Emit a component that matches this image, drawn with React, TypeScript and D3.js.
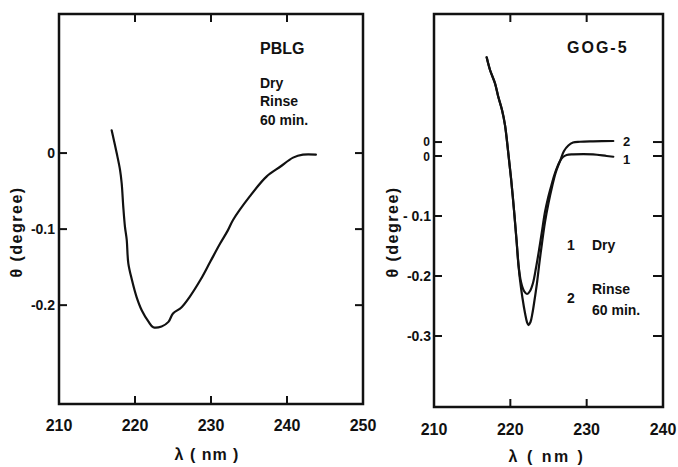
import React from "react";
import * as d3 from "d3";

// ---- Data ----
const pblgWavelength = [216.93, 217.59, 218.03, 218.25, 218.46, 218.68, 218.91, 219.12, 219.6, 220.2, 220.9, 221.8, 222.4, 223.5, 224.4, 225.0, 226.1, 227.2, 228.6, 229.9, 231.2, 232.2, 232.9, 235.1, 237.3, 239.1, 240.8, 242.1, 243.8];
const pblgTheta = [0.03, 0.0, -0.022, -0.04, -0.071, -0.097, -0.114, -0.145, -0.167, -0.189, -0.207, -0.222, -0.229, -0.228, -0.222, -0.211, -0.203, -0.189, -0.167, -0.143, -0.119, -0.102, -0.088, -0.057, -0.031, -0.018, -0.006, -0.002, -0.002];

// GOG-5 curve 1 (Dry), values on its own zero
const dryWavelength = [216.9, 217.34, 217.99, 218.42, 218.91, 219.3, 219.69, 220.09, 220.48, 220.81, 221.07, 221.4, 221.79, 222.18, 222.58, 222.97, 223.36, 223.76, 224.11, 224.54, 224.97, 225.39, 225.85, 226.51, 226.9, 227.38, 228.21, 230.83, 232.62, 233.49];
const dryTheta = [0.1645, 0.1433, 0.1212, 0.0988, 0.0767, 0.0517, 0.01, -0.0367, -0.09, -0.14, -0.1817, -0.21, -0.225, -0.23, -0.225, -0.2117, -0.1867, -0.1567, -0.1283, -0.0933, -0.0683, -0.0483, -0.0283, -0.0083, -0.0017, 0.0017, 0.0028, 0.0028, 0.0, -0.0012];

// GOG-5 curve 2 (Rinse 60 min.), values on its own zero
const rinseWavelength = [216.9, 217.34, 217.99, 218.42, 218.91, 219.3, 219.69, 220.09, 220.48, 220.81, 221.07, 221.27, 221.59, 221.92, 222.18, 222.38, 222.64, 222.9, 223.17, 223.49, 223.82, 224.15, 224.54, 225.0, 225.46, 225.92, 226.51, 227.03, 227.6, 228.21, 229.13, 230.83, 233.49];
const rinseTheta = [0.1412, 0.12, 0.0978, 0.0755, 0.0533, 0.0283, -0.0133, -0.06, -0.1133, -0.1633, -0.205, -0.23, -0.26, -0.285, -0.3, -0.305, -0.3, -0.285, -0.2633, -0.235, -0.2, -0.1683, -0.1333, -0.1017, -0.075, -0.0517, -0.0317, -0.015, -0.0058, -0.0008, 0.0005, 0.0012, 0.0017];
const rinseBaselineShift = 0.0233; // curve 2 drawn offset above curve 1

const leftXTicks = [210, 220, 230, 240, 250];
const leftYTicks = [0, -0.1, -0.2];
const leftYTickLabels = ["0", "-0.1", "-0.2"];
const rightXTicks = [210, 220, 230, 240];
const rightYTicks = [-0.1, -0.2, -0.3];
const rightYTickLabels = ["- 0.1", "-0.2", "-0.3"];

const FONT = "'Liberation Sans', Arial, sans-serif";

export default function App() {
  // Left panel scales
  const lx = d3.scaleLinear().domain([210, 250]).range([59, 363]);
  const ly = d3.scaleLinear().domain([-0.33, 0.1829]).range([404, 14]);
  // Right panel scales
  const rx = d3.scaleLinear().domain([210, 240]).range([434, 663]);
  const ry = d3.scaleLinear().domain([-0.4183, 0.2367]).range([407, 14]);

  const lineL = d3
    .line<number>()
    .x((_, i) => lx(pblgWavelength[i]))
    .y((d) => ly(d))
    .curve(d3.curveCatmullRom.alpha(0.5));
  const lineDry = d3
    .line<number>()
    .x((_, i) => rx(dryWavelength[i]))
    .y((d) => ry(d))
    .curve(d3.curveCatmullRom.alpha(0.5));
  const lineRinse = d3
    .line<number>()
    .x((_, i) => rx(rinseWavelength[i]))
    .y((d) => ry(d + rinseBaselineShift))
    .curve(d3.curveCatmullRom.alpha(0.5));

  const tk = 8;
  const frameW = 2.5;
  const textStyle = { fontFamily: FONT, fontWeight: 700, fill: "#111" } as const;

  const [lx0, lx1] = lx.range();
  const [ly1, ly0] = ly.range();
  const [rx0, rx1] = rx.range();
  const [ry1, ry0] = ry.range();

  return (
    <svg width={678} height={467} style={{ position: "absolute", left: 0, top: 0, background: "#fff" }}>
      <rect x={0} y={0} width={678} height={467} fill="#fff" />
      {/* LEFT PANEL */}
      <g stroke="#111" fill="none">
        <rect x={lx0} y={ly0} width={lx1 - lx0} height={ly1 - ly0} strokeWidth={frameW} />
        {leftXTicks.slice(1, -1).map((t) => (
          <g key={"lxt" + t} strokeWidth={2}>
            <line x1={lx(t)} x2={lx(t)} y1={ly1} y2={ly1 - tk} />
            <line x1={lx(t)} x2={lx(t)} y1={ly0} y2={ly0 + tk} />
          </g>
        ))}
        {leftYTicks.map((t) => (
          <g key={"lyt" + t} strokeWidth={2}>
            <line x1={lx0} x2={lx0 + tk} y1={ly(t)} y2={ly(t)} />
            <line x1={lx1} x2={lx1 - tk} y1={ly(t)} y2={ly(t)} />
          </g>
        ))}
        <path d={lineL(pblgTheta) || ""} strokeWidth={2.2} strokeLinejoin="round" strokeLinecap="round" />
      </g>
      {leftXTicks.map((t) => (
        <text key={"lxl" + t} x={lx(t)} y={431} textAnchor="middle" fontSize={16} {...textStyle}>
          {t}
        </text>
      ))}
      {leftYTicks.map((t, i) => (
        <text key={"lyl" + t} x={55} y={ly(t) + 5} textAnchor="end" fontSize={14} {...textStyle}>
          {leftYTickLabels[i]}
        </text>
      ))}
      <text x={207} y={460} textAnchor="middle" fontSize={16} letterSpacing={1} {...textStyle}>
        λ ( nm )
      </text>
      <text transform="translate(22,232) rotate(-90)" textAnchor="middle" fontSize={16} letterSpacing={1.5} {...textStyle}>
        θ (degree)
      </text>
      <text x={260} y={54} fontSize={16} {...textStyle}>PBLG</text>
      <text x={260} y={88} fontSize={14} {...textStyle}>Dry</text>
      <text x={260} y={106} fontSize={14} {...textStyle}>Rinse</text>
      <text x={260} y={125} fontSize={14} {...textStyle}>60 min.</text>

      {/* RIGHT PANEL */}
      <g stroke="#111" fill="none">
        <rect x={rx0} y={ry0} width={rx1 - rx0} height={ry1 - ry0} strokeWidth={frameW} />
        {rightXTicks.slice(1, -1).map((t) => (
          <g key={"rxt" + t} strokeWidth={2}>
            <line x1={rx(t)} x2={rx(t)} y1={ry1} y2={ry1 - tk} />
            <line x1={rx(t)} x2={rx(t)} y1={ry0} y2={ry0 + tk} />
          </g>
        ))}
        {[rinseBaselineShift, 0, ...rightYTicks].map((t) => (
          <g key={"ryt" + t} strokeWidth={2}>
            <line x1={rx0} x2={rx0 + tk} y1={ry(t)} y2={ry(t)} />
            <line x1={rx1} x2={rx1 - 10} y1={ry(t)} y2={ry(t)} />
          </g>
        ))}
        <path d={lineRinse(rinseTheta) || ""} strokeWidth={2.2} strokeLinejoin="round" strokeLinecap="round" />
        <path d={lineDry(dryTheta) || ""} strokeWidth={2.2} strokeLinejoin="round" strokeLinecap="round" />
      </g>
      {rightXTicks.map((t) => (
        <text key={"rxl" + t} x={rx(t)} y={435} textAnchor="middle" fontSize={16} {...textStyle}>
          {t}
        </text>
      ))}
      {rightYTicks.map((t, i) => (
        <text key={"ryl" + t} x={431} y={ry(t) + 5} textAnchor="end" fontSize={14} {...textStyle}>
          {rightYTickLabels[i]}
        </text>
      ))}
      <text x={430} y={ry(rinseBaselineShift) + 4} textAnchor="end" fontSize={12} {...textStyle}>0</text>
      <text x={430} y={ry(0) + 5} textAnchor="end" fontSize={12} {...textStyle}>0</text>
      <text x={547} y={462} textAnchor="middle" fontSize={16} letterSpacing={2.5} {...textStyle}>
        λ ( nm )
      </text>
      <text transform="translate(398,232) rotate(-90)" textAnchor="middle" fontSize={16} letterSpacing={1.5} {...textStyle}>
        θ (degree)
      </text>
      <text x={567} y={53} fontSize={16} letterSpacing={2} {...textStyle}>GOG-5</text>
      <text x={623} y={ry(rinseBaselineShift) + 4} fontSize={13} {...textStyle}>2</text>
      <text x={623} y={ry(0) + 8} fontSize={13} {...textStyle}>1</text>
      <text x={567} y={250} fontSize={14} {...textStyle}>1</text>
      <text x={592} y={250} fontSize={14} {...textStyle}>Dry</text>
      <text x={567} y={303} fontSize={14} {...textStyle}>2</text>
      <text x={592} y={294} fontSize={14} {...textStyle}>Rinse</text>
      <text x={592} y={315} fontSize={14} {...textStyle}>60 min.</text>
    </svg>
  );
}
